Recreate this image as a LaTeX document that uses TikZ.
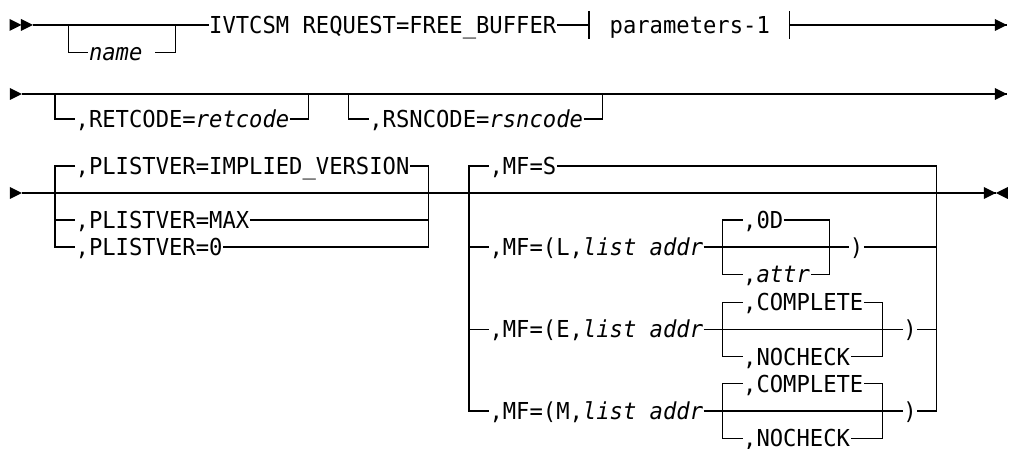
\documentclass[tikz,border=0pt]{standalone}
\usepackage{fontspec}
\newfontfamily\rrfont{DejaVu Sans Mono}[FakeStretch=0.95]

\tikzset{
  kw/.style={font=\rrfont\fontsize{23.34pt}{28pt}\selectfont, inner sep=0pt,
    text height=17pt, text depth=0pt, anchor=west},
  var/.style={kw, font=\rrfont\fontsize{23.34pt}{28pt}\selectfont\itshape},
  rtri/.pic={\fill (0,0) -- (-12pt,6pt) -- (-12pt,-6pt) -- cycle;},
  ltri/.pic={\fill (0,0) -- (12pt,6pt) -- (12pt,-6pt) -- cycle;},
}

\begin{document}
\begin{tikzpicture}[x=13.35pt, y=-1pt, line width=1.2pt]
	\useasboundingbox (-5.1236,0) rectangle (70.5318,449);

	% first line
	\node[kw] (ivt) at (10.5,25) {IVTCSM REQUEST=FREE\_BUFFER};
	\node[var] (nm) at (1.5,52.2) {name};
	\node[kw] (parm) at (40.5,25) {parameters-1};
	\coordinate (st1) at (-2.652,25);
	\coordinate (en1) at (70.3,25);
	\coordinate (b1) at (39,25);
	\coordinate (b2) at (54,25);
	\pic at (-3.513,25) {rtri};
	\pic at (st1) {rtri};
	\pic at (en1) {rtri};

	\draw (st1) -- (ivt.west);
	\draw (0,25) |- (nm.west);
	\draw (6.5,52.2) -| (8,25);
	\draw (ivt.east) -- (b1);
	\draw ([yshift=14pt]b1) -- ([yshift=-14pt]b1);
	\draw ([yshift=14pt]b2) -- ([yshift=-14pt]b2);
	\draw (b2) -- (en1);

	% second line
	\node[kw] (ret) at (0.5,119) {,RETCODE={\itshape retcode}};
	\node[kw] (rsn) at (22.5,119) {,RSNCODE={\itshape rsncode}};
	\coordinate (st2) at (-3.476,94);
	\coordinate (en2) at (70.3,94);
	\pic at (st2) {rtri};
	\pic at (en2) {rtri};

	\draw (st2) -- (en2);
	\draw (-1,94) |- (ret.west);
	\draw (ret.east) -| (18,94);
	\draw (21,94) |- (rsn.west);
	\draw (rsn.east) -| (40,94);

	% third line
	\node[kw] (pl1) at (0.5,166) {,PLISTVER=IMPLIED\_VERSION};
	\node[kw] (pl2) at (0.5,220) {,PLISTVER=MAX};
	\node[kw] (pl3) at (0.5,247) {,PLISTVER=0};
	\node[kw] (mfs) at (31.5,166) {,MF=S};
	\node[kw] (mfl) at (31.5,247) {,MF=(L,{\itshape list addr}};
	\node[kw] (mfe) at (31.5,329.4) {,MF=(E,{\itshape list addr}};
	\node[kw] (mfm) at (31.5,411) {,MF=(M,{\itshape list addr}};
	\node[kw] (od) at (50.5,220) {,0D};
	\node[kw] (attr) at (50.5,274.2) {,{\itshape attr}};
	\node[kw] (parL) at (58.5,247) {)};
	\node[kw] (cpe) at (50.5,302.2) {,COMPLETE};
	\node[kw] (nce) at (50.5,356.6) {,NOCHECK};
	\node[kw] (parE) at (62.5,329.4) {)};
	\node[kw] (cpm) at (50.5,383.8) {,COMPLETE};
	\node[kw] (ncm) at (50.5,438.2) {,NOCHECK};
	\node[kw] (parM) at (62.5,411) {)};
	\coordinate (st3) at (-3.476,193);
	\coordinate (en3) at (69.48,193);
	\pic at (st3) {rtri};
	\pic at (en3) {rtri};
	\pic at (en3) {ltri};

	\draw (st3) -- (en3);
	% PLISTVER choice
	\draw (pl1.west) -| (-1,193) |- (pl3.west);
	\draw (-1,220) -- (pl2.west);
	\draw (pl1.east) -| (27,193) |- (pl3.east);
	\draw (pl2.east) -- (27,220);
	% MF choice
	\draw (mfs.west) -| (30,193) |- (mfm.west);
	\draw (30,247) -- (mfl.west);
	\draw (30,329.4) -- (mfe.west);
	\draw (mfs.east) -| (65,193) |- (parM.east);
	\draw (parL.east) -- (65,247);
	\draw (parE.east) -- (65,329.4);
	% MF=(L
	\draw (mfl.east) -- (parL.west);
	\draw (od.west) -| (49,247) |- (attr.west);
	\draw (od.east) -| (57,247) |- (attr.east);
	% MF=(E
	\draw (mfe.east) -- (parE.west);
	\draw (cpe.west) -| (49,329.4) |- (nce.west);
	\draw (cpe.east) -| (61,329.4) |- (nce.east);
	% MF=(M
	\draw (mfm.east) -- (parM.west);
	\draw (cpm.west) -| (49,411) |- (ncm.west);
	\draw (cpm.east) -| (61,411) |- (ncm.east);

\end{tikzpicture}
\end{document}
